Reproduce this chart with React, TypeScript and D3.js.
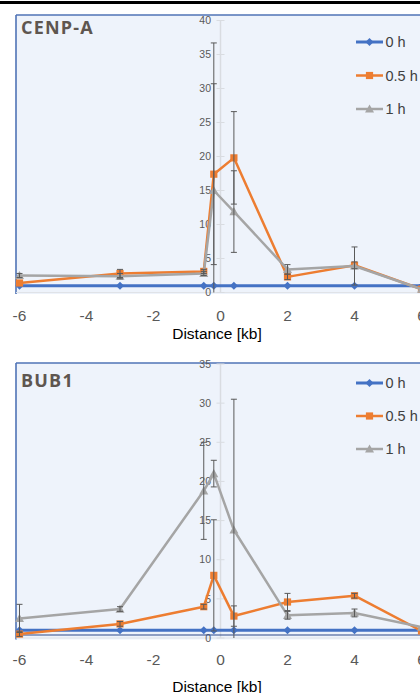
import React, { useEffect, useRef } from "react";
import * as d3 from "d3";

// ---- data ----
const distances = [-6, -3, -0.5, -0.2, 0.4, 2, 4, 6];
const xTickValues = [-6, -4, -2, 0, 2, 4, 6];
const seriesNames = ["0 h", "0.5 h", "1 h"];

const cenpaTitle = "CENP-A";
const cenpa0h = [1, 1, 1, 1, 1, 1, 1, 1];
const cenpa05h = [1.4, 2.8, 3.1, 17.4, 19.8, 2.3, 4.0, 0.5];
const cenpa1h = [2.5, 2.4, 2.8, 15.0, 11.9, 3.4, 3.9, 0.5];
const cenpaErr05h = [0, 0.6, 0.3, 13.3, 6.8, 0.4, 0.5, 0];
const cenpaErr1h = [0.3, 0.4, 0.3, 21.7, 6.0, 0.7, 2.8, 0];
const cenpaYTicks = [0, 5, 10, 15, 20, 25, 30, 35, 40];

const bub1Title = "BUB1";
const bub10h = [1, 1, 1, 1, 1, 1, 1, 1];
const bub105h = [0.5, 1.8, 4.0, 8.0, 2.8, 4.6, 5.4, 0.9];
const bub11h = [2.5, 3.7, 18.8, 21.0, 13.8, 2.9, 3.2, 1.4];
const bub1Err05h = [0.3, 0.3, 0.3, 7.1, 1.3, 1.1, 0.3, 0];
const bub1Err1h = [1.8, 0.3, 6.2, 1.7, 16.7, 0.5, 0.5, 0];
const bub1YTicks = [0, 5, 10, 15, 20, 25, 30, 35];

const COLORS = ["#4472C4", "#ED7D31", "#A5A5A5"];

type PanelCfg = {
  title: string;
  values: number[][];
  errs: (number[] | null)[];
  yTicks: number[];
  top: number;
  y0: number;
  yTopPx: number;
  titleBaseline: number;
  legendYs: number[];
  tickBaseline: number;
  axisTitleBaseline: number;
  bottomLine: number | null;
};

function marker(g: any, kind: number, x: number, y: number, color: string) {
  if (kind === 0) {
    const r = 4;
    g.append("path")
      .attr("d", `M${x},${y - r}L${x + r},${y}L${x},${y + r}L${x - r},${y}Z`)
      .attr("fill", color);
  } else if (kind === 1) {
    const r = 3.6;
    g.append("rect")
      .attr("x", x - r)
      .attr("y", y - r)
      .attr("width", 2 * r)
      .attr("height", 2 * r)
      .attr("fill", color);
  } else {
    const r = 4.5;
    g.append("path")
      .attr("d", `M${x},${y - r}L${x + r},${y + r * 0.8}L${x - r},${y + r * 0.8}Z`)
      .attr("fill", color);
  }
}

export default function App() {
  const ref = useRef<SVGSVGElement>(null);

  useEffect(() => {
    const svg = d3.select(ref.current);
    svg.selectAll("*").remove();

    // black bar at top
    svg.append("rect").attr("x", 0).attr("y", 1).attr("width", 420).attr("height", 3).attr("fill", "#000");

    const x = d3.scaleLinear().domain([-6, 6]).range([19.5, 421.5]);

    const panels: PanelCfg[] = [
      {
        title: cenpaTitle,
        values: [cenpa0h, cenpa05h, cenpa1h],
        errs: [null, cenpaErr05h, cenpaErr1h],
        yTicks: cenpaYTicks,
        top: 15,
        y0: 292.5,
        yTopPx: 20.5,
        titleBaseline: 34,
        legendYs: [42, 75.5, 109],
        tickBaseline: 320.5,
        axisTitleBaseline: 338.5,
        bottomLine: null,
      },
      {
        title: bub1Title,
        values: [bub10h, bub105h, bub11h],
        errs: [null, bub1Err05h, bub1Err1h],
        yTicks: bub1YTicks,
        top: 363,
        y0: 638,
        yTopPx: 364,
        titleBaseline: 386.5,
        legendYs: [383, 416, 449],
        tickBaseline: 665,
        axisTitleBaseline: 691.5,
        bottomLine: 635,
      },
    ];

    panels.forEach((p) => {
      const yMax = p.yTicks[p.yTicks.length - 1];
      const y = d3.scaleLinear().domain([0, yMax]).range([p.y0, p.yTopPx]);
      const g = svg.append("g");

      // background
      g.append("rect")
        .attr("x", 16)
        .attr("y", p.top)
        .attr("width", 420)
        .attr("height", p.y0 + 1.5 - p.top)
        .attr("fill", "#EEF3FB");
      // borders
      g.append("line").attr("x1", 16).attr("x2", 430).attr("y1", p.top).attr("y2", p.top)
        .attr("stroke", "#4F73B6").attr("stroke-width", 1.6);
      g.append("line").attr("x1", 16).attr("x2", 16).attr("y1", p.top).attr("y2", p.y0 + 1.5)
        .attr("stroke", "#4F73B6").attr("stroke-width", 1.6);

      // x axis line
      g.append("line").attr("x1", 16).attr("x2", 430).attr("y1", p.y0).attr("y2", p.y0)
        .attr("stroke", "#E0E3E8").attr("stroke-width", 1);
      // y axis line at x=0
      const ax = x(0);
      g.append("line").attr("x1", ax).attr("x2", ax).attr("y1", y(yMax)).attr("y2", p.y0)
        .attr("stroke", "#D9DCE1").attr("stroke-width", 1.5);
      p.yTicks.forEach((t) => {
        g.append("line").attr("x1", ax - 4).attr("x2", ax + 4).attr("y1", y(t)).attr("y2", y(t))
          .attr("stroke", "#D9DCE1").attr("stroke-width", 1);
        g.append("text")
          .attr("x", 211)
          .attr("y", y(t))
          .attr("dy", "0.36em")
          .attr("text-anchor", "end")
          .attr("font-family", "Liberation Sans, Arial, sans-serif")
          .attr("font-size", 10.5)
          .attr("fill", "#595959")
          .text(t);
      });

      if (p.bottomLine !== null) {
        g.append("line").attr("x1", 16).attr("x2", 430).attr("y1", p.bottomLine).attr("y2", p.bottomLine)
          .attr("stroke", "#2E4A8A").attr("stroke-width", 1.2);
      }

      // series
      const line = d3.line<number>().x((_, i) => x(distances[i])).y((d) => y(d));
      p.values.forEach((vals, si) => {
        g.append("path")
          .attr("d", line(vals) as string)
          .attr("fill", "none")
          .attr("stroke", COLORS[si])
          .attr("stroke-width", si === 0 ? 3 : 2.5)
          .attr("stroke-linejoin", "round");
        vals.forEach((v, i) => marker(g, si, x(distances[i]), y(v), COLORS[si]));
      });

      // error bars
      const yc = y.copy().clamp(true);
      p.errs.forEach((errs, si) => {
        if (!errs) return;
        errs.forEach((e, i) => {
          if (e <= 0) return;
          const v = p.values[si][i];
          const xx = x(distances[i]);
          const hi = v + e;
          const lo = v - e;
          g.append("line").attr("x1", xx).attr("x2", xx).attr("y1", yc(hi)).attr("y2", yc(lo))
            .attr("stroke", "#595959").attr("stroke-width", 1);
          g.append("line").attr("x1", xx - 3).attr("x2", xx + 3).attr("y1", yc(hi)).attr("y2", yc(hi))
            .attr("stroke", "#595959").attr("stroke-width", 1);
          if (lo > 0) {
            g.append("line").attr("x1", xx - 3).attr("x2", xx + 3).attr("y1", yc(lo)).attr("y2", yc(lo))
              .attr("stroke", "#595959").attr("stroke-width", 1);
          }
        });
      });

      // title
      g.append("text")
        .attr("x", 21)
        .attr("y", p.titleBaseline)
        .attr("font-family", "Open Sans, sans-serif")
        .attr("font-weight", 700)
        .attr("font-size", 18)
        .attr("letter-spacing", 1.2)
        .attr("fill", "#5E5650")
        .text(p.title);

      // legend
      seriesNames.forEach((name, si) => {
        const ly = p.legendYs[si];
        g.append("line").attr("x1", 356).attr("x2", 383).attr("y1", ly).attr("y2", ly)
          .attr("stroke", COLORS[si]).attr("stroke-width", si === 0 ? 3 : 2.5);
        marker(g, si, 369.5, ly, COLORS[si]);
        g.append("text")
          .attr("x", 385.5)
          .attr("y", ly)
          .attr("dy", "0.36em")
          .attr("font-family", "Liberation Sans, Arial, sans-serif")
          .attr("font-size", 14.5)
          .attr("fill", "#404040")
          .text(name);
      });

      // x tick labels
      xTickValues.forEach((t) => {
        g.append("text")
          .attr("x", x(t))
          .attr("y", p.tickBaseline)
          .attr("text-anchor", "middle")
          .attr("font-family", "Liberation Sans, Arial, sans-serif")
          .attr("font-size", 15.5)
          .attr("fill", "#595959")
          .text(t);
      });
      g.append("text")
        .attr("x", 217)
        .attr("y", p.axisTitleBaseline)
        .attr("text-anchor", "middle")
        .attr("font-family", "Liberation Sans, Arial, sans-serif")
        .attr("font-size", 15.5)
        .attr("fill", "#000")
        .text("Distance [kb]");
    });
  }, []);

  return (
    <svg
      ref={ref}
      width={420}
      height={693}
      style={{ position: "absolute", left: 0, top: 0, background: "#fff", overflow: "hidden" }}
    />
  );
}
